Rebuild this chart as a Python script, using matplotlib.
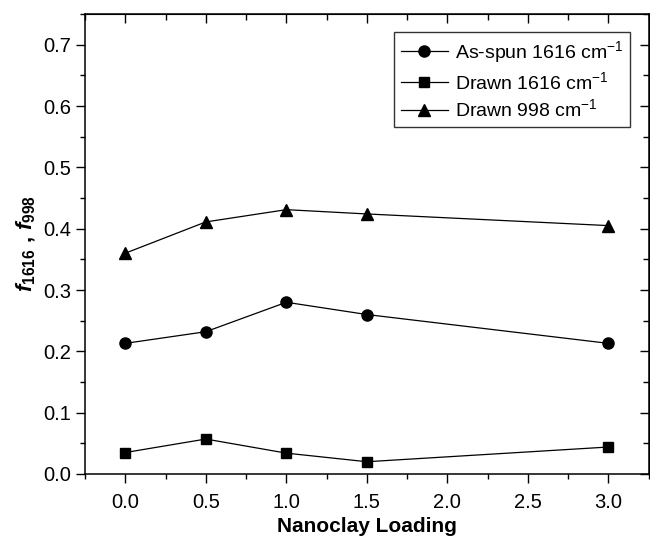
import matplotlib
matplotlib.use("Agg")
import matplotlib.pyplot as plt
from matplotlib.ticker import MultipleLocator, FormatStrFormatter

plt.rcParams['font.family'] = ['Liberation Sans', 'DejaVu Sans']
plt.rcParams['mathtext.fontset'] = 'custom'
plt.rcParams['mathtext.rm'] = 'Liberation Sans'
plt.rcParams['mathtext.it'] = 'Liberation Sans:italic:bold'
plt.rcParams['mathtext.bf'] = 'Liberation Sans:bold'

# nanoclay loading
loading = [0.0, 0.5, 1.0, 1.5, 3.0]

# orientation factors
as_spun_1616 = [0.213, 0.232, 0.280, 0.260, 0.213]
drawn_1616 = [0.035, 0.057, 0.034, 0.020, 0.044]
drawn_998 = [0.360, 0.411, 0.431, 0.424, 0.405]

labels = ['As-spun 1616 cm$^{-1}$', 'Drawn 1616 cm$^{-1}$', 'Drawn 998 cm$^{-1}$']

fig = plt.figure(figsize=(6.5, 5.39), dpi=100)
ax = fig.add_axes([0.1308, 0.1206, 0.8672, 0.8534])

ax.plot(loading, as_spun_1616, 'k-', marker='o', ms=8, lw=0.9, label=labels[0])
ax.plot(loading, drawn_1616, 'k-', marker='s', ms=7, lw=0.9, label=labels[1])
ax.plot(loading, drawn_998, 'k-', marker='^', ms=8.5, lw=0.9, label=labels[2])

ax.set_xlim(-0.25, 3.25)
ax.set_ylim(0, 0.75)
ax.xaxis.set_major_locator(MultipleLocator(0.5))
ax.xaxis.set_minor_locator(MultipleLocator(0.25))
ax.yaxis.set_major_locator(MultipleLocator(0.1))
ax.yaxis.set_minor_locator(MultipleLocator(0.05))
ax.xaxis.set_major_formatter(FormatStrFormatter('%.1f'))
ax.yaxis.set_major_formatter(FormatStrFormatter('%.1f'))

for s in ax.spines.values():
    s.set_linewidth(1.1)

ax.tick_params(which='both', direction='out', labelsize=14.5, width=1.0, colors='black')
ax.tick_params(which='major', length=6.5)
ax.tick_params(which='minor', length=3.8)
ax.tick_params(axis='x', pad=7.5)
# mirrored inward ticks on top and right
secx = ax.secondary_xaxis('top')
secx.xaxis.set_major_locator(MultipleLocator(0.5))
secx.xaxis.set_minor_locator(MultipleLocator(0.25))
secx.tick_params(which='both', direction='in', labeltop=False, width=1.0)
secx.tick_params(which='major', length=6.5)
secx.tick_params(which='minor', length=4)
secy = ax.secondary_yaxis('right')
secy.yaxis.set_major_locator(MultipleLocator(0.1))
secy.yaxis.set_minor_locator(MultipleLocator(0.05))
secy.tick_params(which='both', direction='in', labelright=False, width=1.0)
secy.tick_params(which='major', length=6.5)
secy.tick_params(which='minor', length=4)

ax.set_xlabel('Nanoclay Loading', fontsize=15, fontweight='bold', labelpad=3)
ax.set_ylabel(r'$\mathit{f}_{\mathbf{1616}}\ \mathbf{,}\ \mathit{f}_{\mathbf{998}}$', fontsize=16, labelpad=4)

leg = ax.legend(loc='upper right', fontsize=14, frameon=True, fancybox=False,
                edgecolor='black', handlelength=2.4, borderpad=0.35,
                labelspacing=0.3, handletextpad=0.35, borderaxespad=0,
                bbox_to_anchor=(0.967, 0.96))
leg.get_frame().set_linewidth(1.0)

fig.savefig('out.png', dpi=100)
